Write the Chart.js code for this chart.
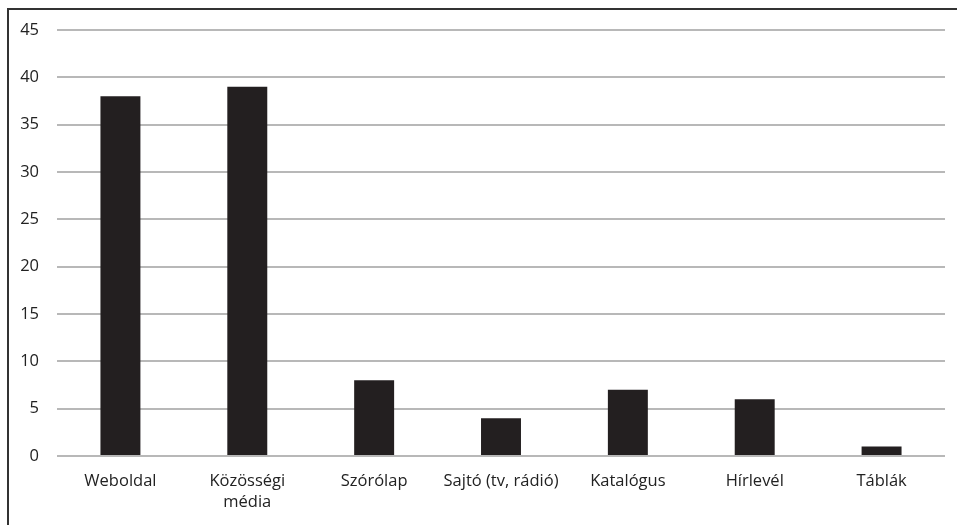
<!DOCTYPE html>
<html>
<head>
<meta charset="utf-8">
<script src="https://cdn.jsdelivr.net/npm/chart.js@4/dist/chart.umd.min.js"></script>
<style>
  html, body { margin: 0; padding: 0; background: #fff; }
  .wrap { position: relative; width: 957px; height: 525px; overflow: hidden; }
  .frame { position: absolute; left: 7px; top: 8px; width: 1000px; height: 600px;
           border-left: 2px solid #333; border-top: 2px solid #333; }
  canvas { position: absolute; left: 0; top: 0; }
</style>
</head>
<body>
<div class="wrap">
  <div class="frame"></div>
  <canvas id="chart" width="957" height="525"></canvas>
</div>
<script>
const categories = ['Weboldal', ['Közösségi', 'média'], 'Szórólap', 'Sajtó (tv, rádió)', 'Katalógus', 'Hírlevél', 'Táblák'];
const values = [38, 39, 8, 4, 7, 6, 1];
const yTicks = [0, 5, 10, 15, 20, 25, 30, 35, 40, 45];

const ctx = document.getElementById('chart').getContext('2d');
new Chart(ctx, {
  type: 'bar',
  data: {
    labels: categories,
    datasets: [{
      data: values,
      backgroundColor: '#231f20',
      barPercentage: 0.63,
      categoryPercentage: 0.5
    }]
  },
  options: {
    responsive: false,
    animation: false,
    layout: { padding: { left: 0, right: 12, top: 30, bottom: 0 } },
    plugins: { legend: { display: false }, tooltip: { enabled: false } },
    scales: {
      x: {
        grid: { display: false, drawTicks: false },
        border: { display: false },
        ticks: {
          color: '#222',
          font: { family: 'Open Sans', size: 16.5, lineHeight: 1.25 },
          padding: 15,
          maxRotation: 0,
          autoSkip: false
        },
        afterFit: (s) => { s.height = 69; }
      },
      y: {
        min: 0,
        max: 45,
        afterBuildTicks: (s) => { s.ticks = yTicks.map(v => ({ value: v })); },
        grid: { color: '#b8b8b8', lineWidth: 2, drawTicks: false },
        border: { display: false },
        ticks: {
          color: '#222',
          font: { family: 'Open Sans', size: 16.5 },
          padding: 18
        },
        afterFit: (s) => { s.width = 57; }
      }
    }
  }
});
</script>
</body>
</html>
